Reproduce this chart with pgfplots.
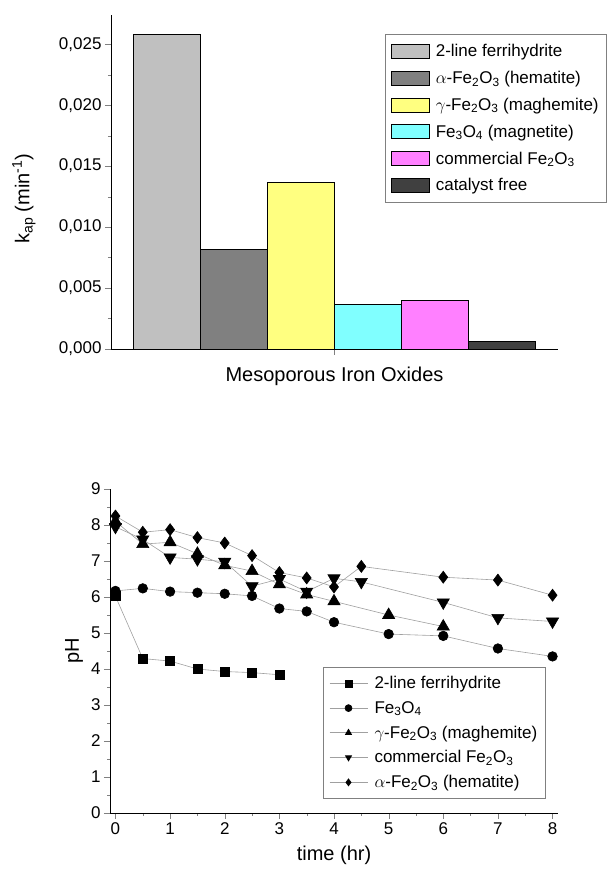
\documentclass[border=0pt]{standalone}
\usepackage{fontspec}
\setmainfont{Liberation Sans}
\usepackage{pgfplots}
\pgfplotsset{compat=1.18}
\definecolor{ferri}{RGB}{192,192,192}
\definecolor{hema}{RGB}{128,128,128}
\definecolor{maghe}{RGB}{255,255,128}
\definecolor{magne}{RGB}{128,255,255}
\definecolor{comm}{RGB}{255,128,255}
\definecolor{free}{RGB}{64,64,64}
\definecolor{linegray}{RGB}{160,160,160}
\newcommand{\tickfont}{\fontsize{17}{20}\selectfont}
\newcommand{\labelfont}{\fontsize{20}{24}\selectfont}
\newcommand{\legfont}{\fontsize{17}{20}\selectfont}
\pgfplotsset{
  every axis/.append style={font=\tickfont},
  every tick label/.append style={font=\tickfont},
  every axis label/.append style={font=\labelfont},
  mybar/.style={ybar, bar width=1, bar shift=0pt, draw=black, line width=0.8pt,
    legend image code/.code={\path[draw=none,fill=none] (0pt,0pt) -- (42pt,0pt);
      \draw[##1] (0pt,-7pt) rectangle (38pt,7pt);}},
  myline/.style={draw=linegray, line width=0.6pt, mark options={draw=black, fill=black},
    legend image code/.code={\path[draw=none,fill=none] (0pt,0pt) -- (43pt,0pt);
      \draw[mark repeat=2,mark phase=2,##1,mark size=3.5pt] plot coordinates {(0pt,0pt) (19pt,0pt) (38pt,0pt)};}},
}
\begin{document}
\begin{tikzpicture}[x=1pt,y=1pt]
\path[use as bounding box] (0,0) rectangle (610,871);
% top: rate constants
\begin{axis}[
  at={(111pt,522pt)}, anchor=south west, scale only axis,
  width=447pt, height=334pt,
  axis x line=bottom, axis y line=left, axis line style={-},
  xmin=-0.83, xmax=5.83, ymin=0, ymax=0.0274,
  xtick={2.5}, xticklabels={},
  ytick={0,0.005,0.01,0.015,0.02,0.025}, minor y tick num=1,
  tick align=outside, major tick length=6pt, minor tick length=3pt,
  scaled y ticks=false,
  yticklabel style={/pgf/number format/.cd, fixed, fixed zerofill, precision=3, use comma, assume math mode=true},
  xlabel={Mesoporous Iron Oxides},
  xlabel style={at={(axis description cs:0.5,-0.081)}, anchor=center},
  ylabel={k\textsubscript{ap} (min\textsuperscript{-1})},
  ylabel style={at={(axis description cs:-0.195,0.45)}, anchor=center},
  legend style={at={(axis description cs:0.613,0.943)}, anchor=north west,
    draw=gray, line width=0.8pt, inner xsep=6pt, inner ysep=8pt, font=\legfont,
    nodes={inner sep=2pt}, row sep=9pt},
  legend cell align=left,
]
\addplot[mybar, fill=ferri] coordinates {(0,0.0258)};
\addlegendentry{2-line ferrihydrite}
\addplot[mybar, fill=hema] coordinates {(1,0.0082)};
\addlegendentry{$\alpha$-Fe\textsubscript{2}O\textsubscript{3} (hematite)}
\addplot[mybar, fill=maghe] coordinates {(2,0.01365)};
\addlegendentry{$\gamma$-Fe\textsubscript{2}O\textsubscript{3} (maghemite)}
\addplot[mybar, fill=magne] coordinates {(3,0.00365)};
\addlegendentry{Fe\textsubscript{3}O\textsubscript{4} (magnetite)}
\addplot[mybar, fill=comm] coordinates {(4,0.0040)};
\addlegendentry{commercial Fe\textsubscript{2}O\textsubscript{3}}
\addplot[mybar, fill=free] coordinates {(5,0.00063)};
\addlegendentry{catalyst free}
\end{axis}
% bottom: pH
\begin{axis}[
  at={(110pt,58pt)}, anchor=south west, scale only axis,
  width=448pt, height=324pt,
  axis x line=bottom, axis y line=left, axis line style={-},
  xmin=-0.1, xmax=8.1, ymin=0, ymax=9,
  xtick={0,...,8}, ytick={0,...,9},
  minor x tick num=1, minor y tick num=1,
  tick align=outside, major tick length=6pt, minor tick length=3pt,
  ticklabel style={/pgf/number format/assume math mode=true},
  xlabel={time (hr)},
  xlabel style={at={(axis description cs:0.5,-0.13)}, anchor=center},
  ylabel={pH},
  ylabel style={at={(axis description cs:-0.08,0.5)}, anchor=center},
  legend style={at={(axis description cs:0.475,0.45)}, anchor=north west,
    draw=gray, line width=0.8pt, inner xsep=6pt, inner ysep=7pt, font=\legfont,
    nodes={inner sep=2pt}, row sep=7pt},
  legend cell align=left,
]
\addplot[myline, mark=square*, mark size=4.5pt] coordinates {
  (0,6.02) (0.5,4.29) (1,4.22) (1.5,4.0) (2,3.93) (2.5,3.9) (3,3.84)};
\addlegendentry{2-line ferrihydrite}
\addplot[myline, mark=*, mark size=4.8pt] coordinates {
  (0,6.17) (0.5,6.24) (1,6.15) (1.5,6.12) (2,6.09) (2.5,6.03) (3,5.68)
  (3.5,5.6) (4,5.3) (5,4.97) (6,4.92) (7,4.57) (8,4.35)};
\addlegendentry{Fe\textsubscript{3}O\textsubscript{4}}
\addplot[myline, mark=triangle*, mark size=7pt] coordinates {
  (0,8.1) (0.5,7.47) (1,7.52) (1.5,7.2) (2,6.88) (2.5,6.72) (3,6.35)
  (3.5,6.07) (4,5.88) (5,5.5) (6,5.18)};
\addlegendentry{$\gamma$-Fe\textsubscript{2}O\textsubscript{3} (maghemite)}
\addplot[myline, mark=triangle*, mark options={draw=black, fill=black, rotate=180}, mark size=7pt] coordinates {
  (0,7.95) (0.5,7.6) (1,7.1) (1.5,7.05) (2,6.98) (2.5,6.3) (3,6.5)
  (3.5,6.15) (4,6.52) (4.5,6.42) (6,5.85) (7,5.42) (8,5.32)};
\addlegendentry{commercial Fe\textsubscript{2}O\textsubscript{3}}
\addplot[myline, mark=diamond*, mark size=6pt] coordinates {
  (0,8.25) (0.5,7.8) (1,7.87) (1.5,7.65) (2,7.5) (2.5,7.15) (3,6.68)
  (3.5,6.53) (4,6.28) (4.5,6.85) (6,6.55) (7,6.47) (8,6.05)};
\addlegendentry{$\alpha$-Fe\textsubscript{2}O\textsubscript{3} (hematite)}
\end{axis}
\end{tikzpicture}
\end{document}
